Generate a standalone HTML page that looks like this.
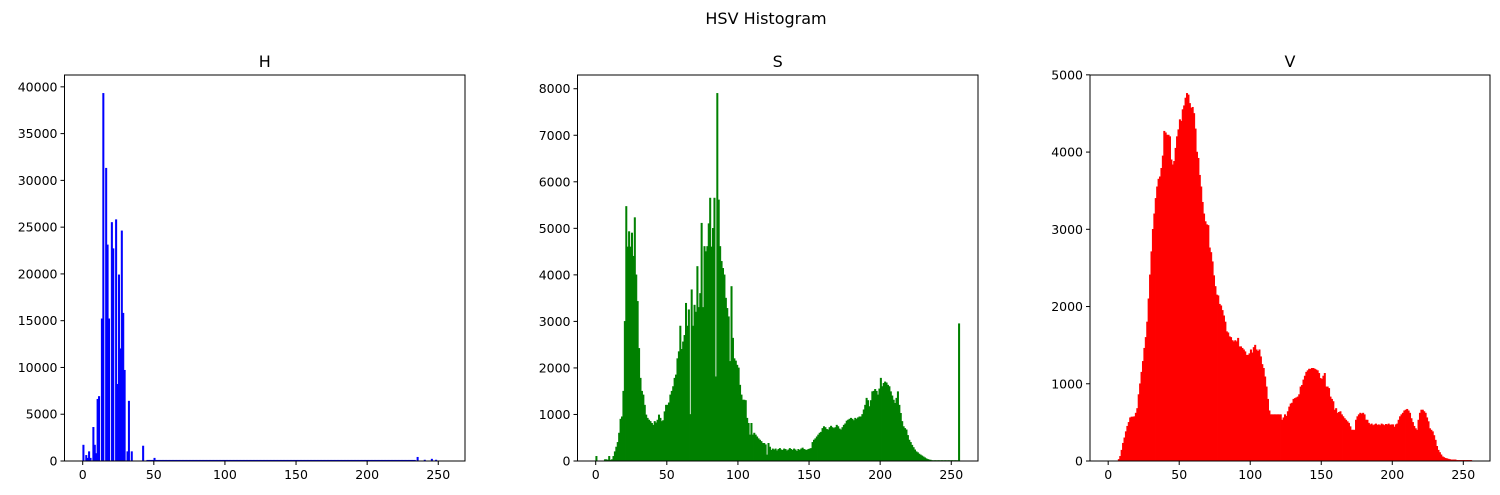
<!DOCTYPE html>
<html><head><meta charset="utf-8"><style>
body{margin:0;background:#fff;}
svg{display:block;font-family:"DejaVu Sans","Liberation Sans",sans-serif;}
</style></head><body>
<svg id="fig" width="1500" height="495" viewBox="0 0 1500 495" xmlns="http://www.w3.org/2000/svg">
<rect width="1500" height="495" fill="#fff"/>
<text x="766" y="24" font-size="16" text-anchor="middle">HSV Histogram</text>
</svg>
<script>
// ---- data ----
const binLabels = [0,50,100,150,200,250];
const hTicks = [0,5000,10000,15000,20000,25000,30000,35000,40000];
const sTicks = [0,1000,2000,3000,4000,5000,6000,7000,8000];
const vTicks = [0,1000,2000,3000,4000,5000];
const hSparse = {0:1700,2:600,3:300,4:1000,5:300,7:3600,8:1700,9:800,10:6600,11:6900,13:15200,14:39300,16:31300,17:23100,18:15200,20:25500,21:22700,23:25800,24:8200,25:19900,26:12000,27:24600,28:15800,29:9700,31:1000,32:6400,34:1000,42:1600,50:300,235:400,240:100,245:200,248:100};
const hValues = [];
for (let i=0;i<256;i++){ hValues.push(hSparse[i]!==undefined?hSparse[i]:(i>44&&i<234?80:0)); }
const sValues = [100,0,0,0,0,0,30,30,20,100,20,30,100,200,300,400,600,900,950,1500,
3000,5470,4600,4930,4600,4900,4400,5230,4000,3430,2420,1780,1500,1420,1200,990,920,880,850,810,
770,850,820,880,990,920,850,870,1060,1200,1200,1250,1420,1500,1600,1780,1850,2200,2350,2900,
2400,2560,2700,3390,2900,3250,1000,3680,2900,3350,3200,4180,3300,3600,5110,3300,4610,4500,4610,5100,
5650,4600,5000,5650,1810,7900,5610,4610,4290,4140,4000,3500,3280,3100,2140,3750,2640,2200,2150,2060,
2000,1630,1420,1310,1310,1300,920,810,560,810,560,600,560,520,480,450,420,380,380,350,
130,380,300,230,260,240,260,220,250,270,240,230,260,250,220,240,270,250,230,260,
240,210,250,230,260,280,250,240,230,250,260,270,400,450,480,520,560,600,620,700,
740,720,680,670,720,750,720,700,720,770,740,690,670,720,770,800,860,880,900,920,
900,870,920,900,930,950,950,1000,1100,1200,1350,1300,1170,1300,1490,1500,1540,1500,1420,1550,
1780,1600,1670,1700,1680,1630,1600,1490,1400,1310,1240,1350,1490,1200,1025,850,740,700,670,550,
450,400,340,290,240,200,180,150,130,110,90,70,50,35,25,20,10,10,10,10,
10,10,10,10,10,10,10,10,10,10,10,10,10,10,10,2950];
const vValues = [0,0,0,0,0,0,0,20,60,140,230,300,380,450,500,560,570,570,575,620,
680,860,1000,1150,1290,1460,1600,1800,2100,2410,2710,3000,3200,3400,3550,3650,3680,3790,3950,4270,
4250,4220,4220,4200,3900,3835,3880,4050,4200,4290,4420,4400,4550,4600,4700,4760,4740,4630,4570,4580,
4500,4300,4000,3920,3700,3550,3350,3200,3100,3060,3050,2760,2700,2580,2400,2260,2150,2140,2030,2010,
1950,1880,1800,1675,1660,1610,1600,1560,1545,1560,1545,1590,1480,1480,1460,1440,1415,1370,1370,1390,
1440,1400,1470,1500,1440,1420,1440,1350,1250,1200,1090,960,800,650,600,600,600,600,600,600,
600,600,530,560,600,580,640,700,740,750,800,810,820,830,860,960,980,1050,1100,1150,
1170,1190,1190,1200,1200,1190,1180,1170,1135,1070,1060,1100,1135,960,960,940,830,800,770,660,
680,620,630,640,600,575,550,530,510,490,445,400,400,400,530,575,600,620,610,620,
600,530,530,490,470,480,460,470,480,465,470,460,480,470,460,475,470,480,465,470,
470,440,470,480,530,575,600,620,650,660,670,650,620,550,500,450,420,400,530,620,
660,660,640,620,560,510,420,400,380,330,270,190,140,110,80,55,45,35,30,25,
20,15,15,15,15,8,8,8,8,8,8,8,8,8,8,8];

const NS="http://www.w3.org/2000/svg";
const svg=document.getElementById('fig');
function mk(tag,attrs,parent){const e=document.createElementNS(NS,tag);for(const k in attrs)e.setAttribute(k,attrs[k]);(parent||svg).appendChild(e);return e;}

function panel(name,left,right,values,yTicks,color){
  const top=75,bottom=461;
  const xmin=-12.8,xmax=268.8;
  let mx=0;values.forEach(v=>{if(v>mx)mx=v;});
  const ymax=mx*1.05;
  const xs=v=>left+(v-xmin)/(xmax-xmin)*(right-left);
  const ys=v=>bottom-v/ymax*(bottom-top);
  const g=mk('g',{});
  
  
  const bars=mk('g',{fill:color,stroke:color,'stroke-width':0.6},g);
  
  
  values.forEach((v,i)=>{
    if(v<=0)return;
    const r=mk('rect',{x:xs(i),y:ys(v),width:xs(i+1)-xs(i),height:bottom-ys(v)},bars);
    
    
  });
  const fr=mk('rect',{x:left,y:top,width:right-left,height:bottom-top,fill:'none',stroke:'#000','stroke-width':1},g);
  
  
  binLabels.forEach(t=>{
    const x=xs(t);
    mk('line',{x1:x,x2:x,y1:bottom,y2:bottom+4,stroke:'#000'},g);
    const tx=mk('text',{x:x,y:bottom+18,'font-size':12.5,'text-anchor':'middle'},g);
    tx.textContent=t;
    
    
  });
  yTicks.forEach(t=>{
    const y=ys(t);
    if(y<top-1)return;
    mk('line',{x1:left-4,x2:left,y1:y,y2:y,stroke:'#000'},g);
    const tx=mk('text',{x:left-7,y:y+4.5,'font-size':12.5,'text-anchor':'end'},g);
    tx.textContent=t;
    
    
  });
  const ti=mk('text',{x:(left+right)/2,y:67,'font-size':16,'text-anchor':'middle'},g);
  ti.textContent=name;
  
  
}
panel('H',64.5,465,hValues,hTicks,'#0000ff');
panel('S',577.5,978,sValues,sTicks,'#008000');
panel('V',1090,1490,vValues,vTicks,'#ff0000');
</script>
</body></html>
